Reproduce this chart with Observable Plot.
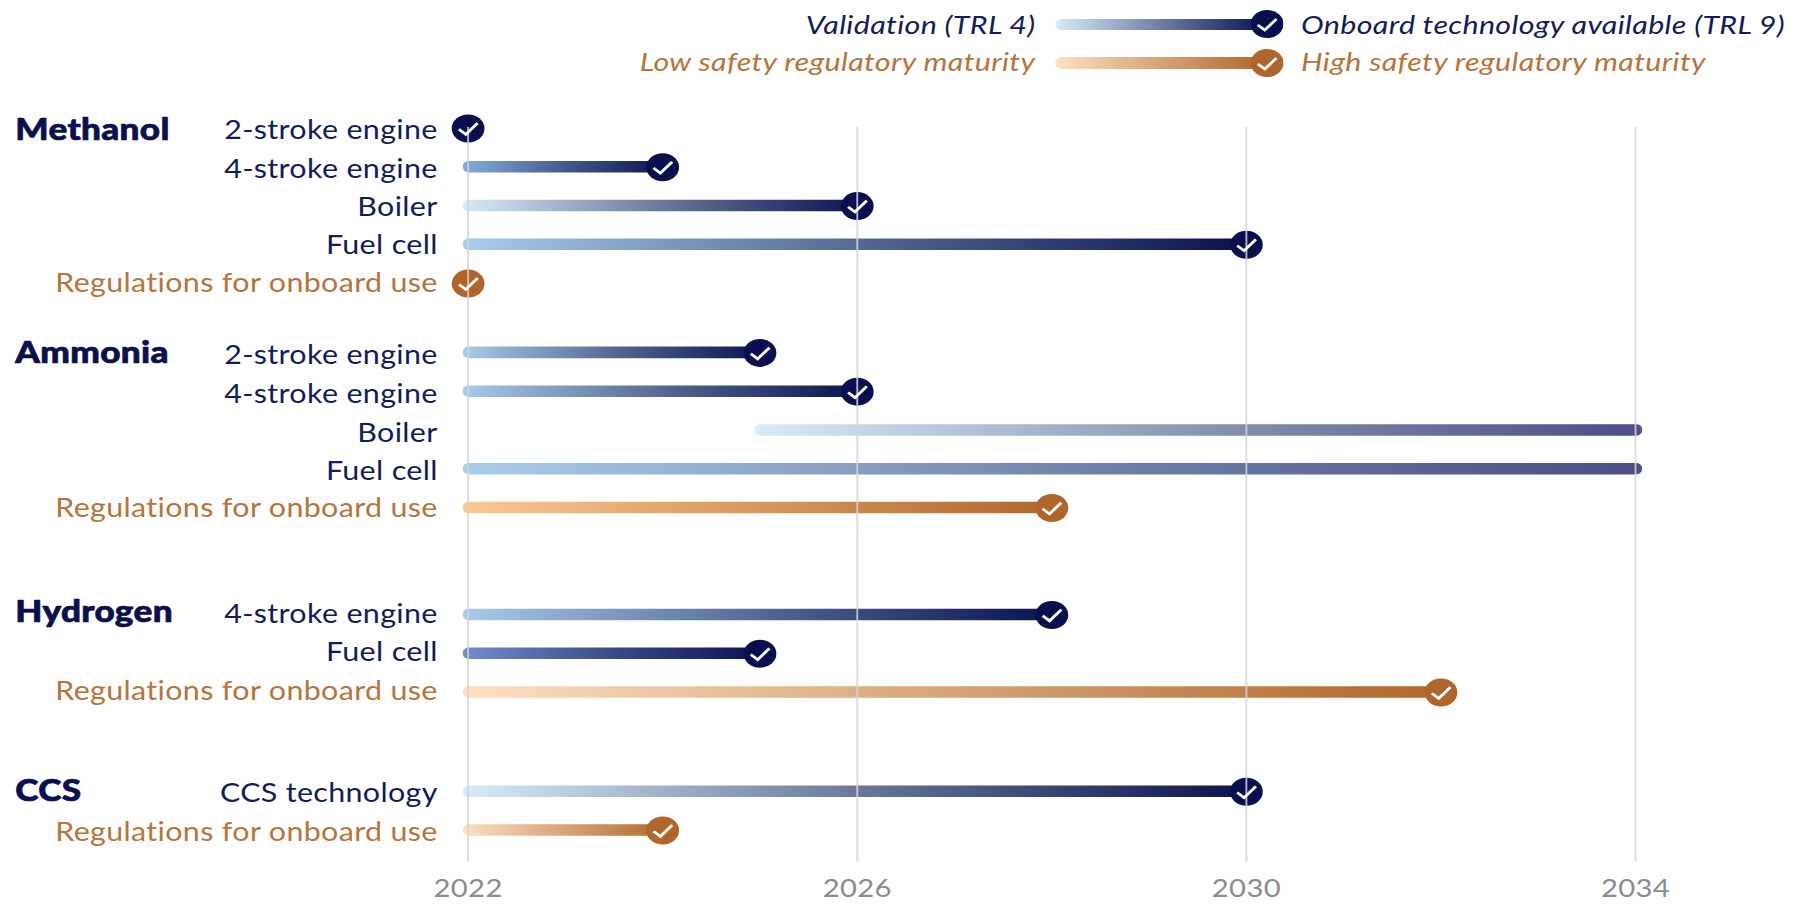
<!DOCTYPE html>
<html><head><meta charset="utf-8">
<script src="https://cdn.jsdelivr.net/npm/d3@7"></script>
<script src="https://cdn.jsdelivr.net/npm/@observablehq/plot@0.6"></script>
<style>
html,body{margin:0;padding:0;background:#fff;overflow:hidden;width:1803px;height:904px}
#page{position:relative;width:1541px;height:904px;transform:scale(1.17,1);transform-origin:0 0;font-family:Lato,sans-serif}
#legend{position:relative;height:80px}
#legend .t{position:absolute;font-style:italic;font-size:26px;letter-spacing:.3px;line-height:30px;white-space:nowrap}
#legend .b{position:absolute;left:902px;width:180px;height:11.5px;border-radius:6px}
#legend svg{position:absolute;left:1069px;width:28px;height:28px}
</style></head><body>
<div id="page"><div id="legend"></div><div id="chart"></div></div>
<script>
// ---- data ----
const groups = ["Methanol","Methanol","Methanol","Methanol","Methanol",
  "Ammonia","Ammonia","Ammonia","Ammonia","Ammonia",
  "Hydrogen","Hydrogen","Hydrogen","CCS","CCS"];
const items = ["2-stroke engine","4-stroke engine","Boiler","Fuel cell","Regulations for onboard use",
  "2-stroke engine","4-stroke engine","Boiler","Fuel cell","Regulations for onboard use",
  "4-stroke engine","Fuel cell","Regulations for onboard use",
  "CCS technology","Regulations for onboard use"];
const startYears = [2022,2022,2022,2022,2022, 2022,2022,2025,2022,2022, 2022,2022,2022, 2022,2022];
const endYears   = [2022,2024,2026,2030,2022, 2025,2026,2034,2034,2028, 2028,2025,2032, 2030,2024];
const reached    = [true,true,true,true,true, true,true,false,false,true, true,true,true, true,true];
const yearTicks = [2022,2026,2030,2034];
const legendLeft = ["Validation (TRL 4)","Low safety regulatory maturity"];
const legendRight = ["Onboard technology available (TRL 9)","High safety regulatory maturity"];

// ---- styling ----
const navy="#0a104f", rust="#b0662a", navyText="#101c5e", rustText="#b8743a";
const startColours = ["#a8cbe9","#84acdb","#d6ecf8","#a9cdea","#fde0c2",
  "#a8cbe9","#a8cbe9","#d6ecf8","#a9cdea","#fcc88f",
  "#a8cbe9","#6f8fca","#fde0c2","#d6ecf8","#fde0c2"];
const unreachedEnd = "#4c4e85";
const groupGaps = {Methanol:0, Ammonia:0.79, Hydrogen:1.76, CCS:1.56};
const labelNudgePx = [0,0,0,-1,-2, 1,1,1,0,-1, -2,-3,-3, 0,0];
const groupNudgePx = {Methanol:1.5, Ammonia:0, Hydrogen:-3, CCS:0};
const slotPx = 702/(d3.sum(Object.values(groupGaps))+items.length-1);

let slot=-1, prev=null;
const rows = items.map((item,i)=>{
  slot += 1;
  if(groups[i]!==prev){ slot += groupGaps[groups[i]]; prev=groups[i]; }
  const reg = item.startsWith("Regulations");
  return {i, group:groups[i], item, start:startYears[i], end:endYears[i], reached:reached[i], slot, reg,
    from:startColours[i], to: !reached[i]?unreachedEnd:(reg?rust:navy), fillId:`url(#grad${i})`};
});
const firstOfGroup = rows.filter((d,i)=>i===0||rows[i-1].group!==d.group);

const ellipseCheck = {draw(ctx,size){
  const R=Math.sqrt(size/Math.PI);
  ctx.moveTo(-0.56*R,0.06*R); ctx.lineTo(-0.14*R,0.42*R); ctx.lineTo(0.58*R,-0.38*R);
}};

const gradients = ()=>{
  const defs=d3.create("svg:defs");
  rows.forEach(d=>{
    const g=defs.append("linearGradient").attr("id",`grad${d.i}`);
    g.append("stop").attr("offset","0").attr("stop-color",d.from);
    if(!d.reg){
      const mid=d3.color(d3.interpolateRgb(d.from,d.to)(0.55));
      g.append("stop").attr("offset","0.55").attr("stop-color",mid.darker(0.18).formatHex());
    }
    g.append("stop").attr("offset","1").attr("stop-color",d.to);
  });
  return defs.node();
};

const chart = Plot.plot({
  width:1541, height:824,
  marginLeft:399.6, marginRight:143.6, marginTop:47, marginBottom:42,
  style:{fontFamily:"Lato, sans-serif",background:"transparent",letterSpacing:"0.3px"},
  x:{domain:[2022,2034]},
  y:{domain:[0,d3.max(rows,d=>d.slot)], range:[48,750], axis:null},
  marks:[
    gradients,
    Plot.rect(rows.filter(d=>d.end>d.start),{x1:"start",x2:"end",
      y1:d=>d.slot-0.15,y2:d=>d.slot+0.15,
      fill:{value:d=>d.fillId,scale:null},insetLeft:-4,insetRight:-6,rx:5}),
    Plot.dot(rows.filter(d=>d.reached),{x:"end",y:"slot",r:14,
      fill:{value:d=>d.reg?rust:navy,scale:null}}),
    Plot.ruleX(yearTicks,{stroke:"#d4d4d4",strokeWidth:1.6,strokeOpacity:0.85}),
    Plot.dot(rows.filter(d=>d.reached),{x:"end",y:"slot",r:14,symbol:ellipseCheck,
      fill:"none",stroke:"white",strokeWidth:2.6}),
    Plot.text(rows,{x:()=>2022,y:d=>d.slot+labelNudgePx[d.i]/slotPx,text:"item",textAnchor:"end",dx:-26,dy:2,fontSize:26,
      fill:{value:d=>d.reg?rustText:navyText,scale:null}}),
    Plot.text(firstOfGroup,{x:()=>2022,y:d=>d.slot+groupNudgePx[d.group]/slotPx,text:"group",textAnchor:"start",dx:-387,fontSize:30,fontWeight:900,
      fill:navy,stroke:navy,strokeWidth:0.7}),
    Plot.axisX({ticks:yearTicks,tickFormat:"d",tickSize:0,tickPadding:17,fontSize:25,color:"#8c8c8c",label:null})
  ]
});
document.getElementById("chart").append(chart);

// ---- legend ----
const lg=d3.select("#legend");
[[24,0,"#d6ecf8",navy,navyText],[62.5,1,"#fde0c2",rust,rustText]].forEach(([cy,k,from,to,col])=>{
  const ty = k ? cy-16.5 : cy-15;
  lg.append("div").attr("class","t").style("top",ty+"px").style("right",(1541-885)+"px").style("color",col).text(legendLeft[k]);
  lg.append("div").attr("class","b").style("top",(cy-5.5)+"px").style("background",`linear-gradient(90deg,${from},${to})`);
  const s=lg.append("svg").style("top",(cy-14)+"px").attr("viewBox","-14 -14 28 28");
  s.append("circle").attr("r",14).attr("fill",to);
  s.append("path").attr("d","M-8 1L-2 6L8 -5").attr("fill","none").attr("stroke","#fff").attr("stroke-width",2.6);
  lg.append("div").attr("class","t").style("top",ty+"px").style("left","1112px").style("color",col).text(legendRight[k]);
});
</script></body></html>
